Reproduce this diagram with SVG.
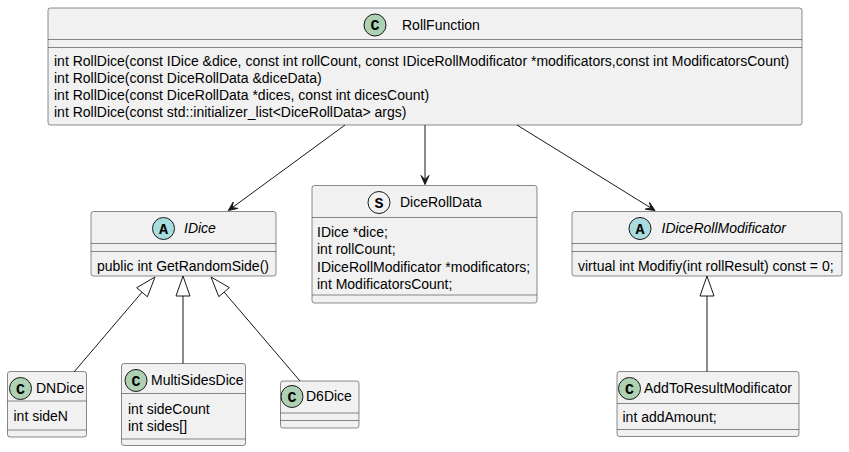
<svg xmlns="http://www.w3.org/2000/svg" width="849" height="452" viewBox="0 0 849 452">
<style>
.box{fill:#F1F1F1;stroke:#181818;stroke-width:0.5}
.sep{stroke:#181818;stroke-width:0.5}
.t{font-family:"Liberation Sans",Arial,sans-serif;font-size:14px;fill:#000}
.ti{font-family:"Liberation Sans",Arial,sans-serif;font-size:14px;font-style:italic;fill:#000}
.spotC{fill:#ADD1B2;stroke:#181818;stroke-width:1}
.spotA{fill:#A9DCDF;stroke:#181818;stroke-width:1}
.spotS{fill:#F1F1F1;stroke:#181818;stroke-width:1}
.sl{font-family:"Liberation Mono","DejaVu Sans Mono",monospace;font-size:15px;font-weight:bold;fill:#000;text-anchor:middle}
.ln{stroke:#181818;stroke-width:1;fill:none}
.ah{fill:#181818;stroke:#181818;stroke-width:1}
.tri{fill:none;stroke:#181818;stroke-width:1}
</style>
<g id="RollFunction">
<rect class="box" x="48" y="8" width="754" height="117" rx="2.5"/>
<ellipse class="spotC" cx="375" cy="25" rx="11" ry="11"/>
<text class="sl" x="375" y="30">C</text>
<text class="t" x="402" y="30">RollFunction</text>
<line class="sep" x1="48" y1="39.5" x2="802" y2="39.5"/>
<line class="sep" x1="48" y1="47.5" x2="802" y2="47.5"/>
<text class="t" x="54" y="66">int RollDice(const IDice &amp;dice, const int rollCount, const IDiceRollModificator *modificators,const int ModificatorsCount)</text>
<text class="t" x="54" y="83">int RollDice(const DiceRollData &amp;diceData)</text>
<text class="t" x="54" y="100">int RollDice(const DiceRollData *dices, const int dicesCount)</text>
<text class="t" x="54" y="117">int RollDice(const std::initializer_list&lt;DiceRollData&gt; args)</text>
</g>
<g id="IDice">
<rect class="box" x="91" y="211.5" width="185" height="64.5" rx="2.5"/>
<ellipse class="spotA" cx="163.5" cy="228.5" rx="11" ry="11"/>
<text class="sl" x="163.5" y="233.5">A</text>
<text class="ti" x="184" y="233">IDice</text>
<line class="sep" x1="91" y1="243.5" x2="276" y2="243.5"/>
<line class="sep" x1="91" y1="251.5" x2="276" y2="251.5"/>
<text class="t" x="97" y="271">public int GetRandomSide()</text>
</g>
<g id="DiceRollData">
<rect class="box" x="312" y="185.5" width="225" height="117.5" rx="2.5"/>
<ellipse class="spotS" cx="379" cy="202.5" rx="11" ry="11"/>
<text class="sl" x="379" y="207.5">S</text>
<text class="t" x="400" y="207">DiceRollData</text>
<line class="sep" x1="312" y1="217.5" x2="537" y2="217.5"/>
<text class="t" x="317" y="237">IDice *dice;</text>
<text class="t" x="317" y="254.3">int rollCount;</text>
<text class="t" x="317" y="271.6">IDiceRollModificator *modificators;</text>
<text class="t" x="317" y="288.9">int ModificatorsCount;</text>
<line class="sep" x1="312" y1="295" x2="537" y2="295"/>
</g>
<g id="IDiceRollModificator">
<rect class="box" x="572" y="211.5" width="270" height="64.5" rx="2.5"/>
<ellipse class="spotA" cx="640" cy="228.5" rx="11" ry="11"/>
<text class="sl" x="640" y="233.5">A</text>
<text class="ti" x="661.5" y="233">IDiceRollModificator</text>
<line class="sep" x1="572" y1="243.5" x2="842" y2="243.5"/>
<line class="sep" x1="572" y1="251.5" x2="842" y2="251.5"/>
<text class="t" x="578" y="271">virtual int Modifiy(int rollResult) const = 0;</text>
</g>
<g id="DNDice">
<rect class="box" x="7.5" y="371.5" width="79" height="65.5" rx="2.5"/>
<ellipse class="spotC" cx="20.5" cy="388.5" rx="11" ry="11"/>
<text class="sl" x="20.5" y="393.5">C</text>
<text class="t" x="36" y="393">DNDice</text>
<line class="sep" x1="7.5" y1="401" x2="86.5" y2="401"/>
<text class="t" x="13.5" y="421">int sideN</text>
<line class="sep" x1="7.5" y1="430" x2="86.5" y2="430"/>
</g>
<g id="MultiSidesDice">
<rect class="box" x="121.5" y="363.5" width="124" height="82" rx="2.5"/>
<ellipse class="spotC" cx="136" cy="380.5" rx="11" ry="11"/>
<text class="sl" x="136" y="385.5">C</text>
<text class="t" x="151" y="385">MultiSidesDice</text>
<line class="sep" x1="121.5" y1="393.5" x2="245.5" y2="393.5"/>
<text class="t" x="128" y="413.5">int sideCount</text>
<text class="t" x="128" y="431">int sides[]</text>
<line class="sep" x1="121.5" y1="439" x2="245.5" y2="439"/>
</g>
<g id="D6Dice">
<rect class="box" x="280.5" y="381" width="78.5" height="47" rx="2.5"/>
<ellipse class="spotC" cx="292" cy="396.5" rx="11" ry="11"/>
<text class="sl" x="292" y="401.5">C</text>
<text class="t" x="306" y="401">D6Dice</text>
<line class="sep" x1="280.5" y1="413" x2="359" y2="413"/>
<line class="sep" x1="280.5" y1="420.5" x2="359" y2="420.5"/>
</g>
<g id="AddToResultModificator">
<rect class="box" x="617" y="371.5" width="182" height="65" rx="2.5"/>
<ellipse class="spotC" cx="629.5" cy="388.5" rx="11" ry="11"/>
<text class="sl" x="629.5" y="393.5">C</text>
<text class="t" x="644" y="393">AddToResultModificator</text>
<line class="sep" x1="617" y1="403.5" x2="799" y2="403.5"/>
<text class="t" x="622.5" y="422">int addAmount;</text>
<line class="sep" x1="617" y1="429.5" x2="799" y2="429.5"/>
</g>
<g id="connectors">
<line class="ln" x1="345" y1="125" x2="232.3" y2="207.6"/>
<polygon class="ah" points="228.3,210.5 237.9,208.4 232.3,207.6 233.2,202 228.3,210.5"/>
<line class="ln" x1="425" y1="125" x2="425" y2="179.5"/>
<polygon class="ah" points="425,184.5 429,175.5 425,179.5 421,175.5 425,184.5"/>
<line class="ln" x1="517" y1="125" x2="650.8" y2="207.9"/>
<polygon class="ah" points="655,210.5 645.2,209.2 650.8,207.9 649.5,202.4 655,210.5"/>
<line class="ln" x1="74" y1="372" x2="142" y2="292.2"/>
<polygon class="tri" points="155,277 147.4,296.8 136.7,287.7 155,277"/>
<line class="ln" x1="183" y1="363.5" x2="183" y2="296"/>
<polygon class="tri" points="183,276 190,296 176,296 183,276"/>
<line class="ln" x1="300" y1="381" x2="224.1" y2="292.1"/>
<polygon class="tri" points="211,277 229.4,287.6 218.8,296.7 211,277"/>
<line class="ln" x1="707" y1="371.5" x2="707" y2="296"/>
<polygon class="tri" points="707,276 714,296 700,296 707,276"/>
</g>
</svg>
